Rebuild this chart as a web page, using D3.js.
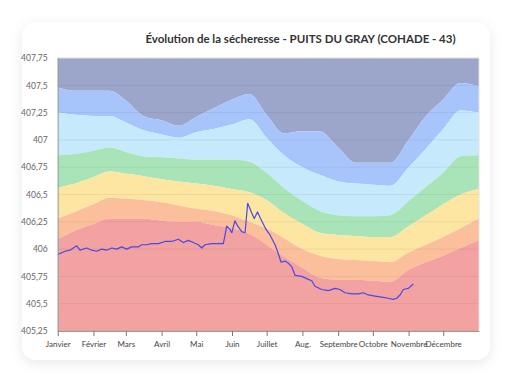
<!DOCTYPE html>
<html><head><meta charset="utf-8">
<script src="https://cdn.jsdelivr.net/npm/d3@7"></script>
<style>
html,body{margin:0;padding:0;background:#fff;width:520px;height:390px;overflow:hidden;font-family:Lato,"Open Sans",sans-serif}
#card{position:absolute;left:22px;top:22px;width:468px;height:338px;border-radius:14px;background:#fff;box-shadow:0 3px 14px rgba(0,0,0,0.09)}
svg{position:absolute;left:0;top:0}
</style></head><body>
<div id="card"></div>
<svg id="chart" width="520" height="390"></svg>
<script>
const title = "Évolution de la sécheresse - PUITS DU GRAY (COHADE - 43)";
const monthNames = ["Janvier","Février","Mars","Avril","Mai","Juin","Juillet","Aug.","Septembre","Octobre","Novembre","Décembre"];
const monthDays = [0,31,59,90,120,151,181,212,243,273,304,334];
const yTicks = [405.25,405.5,405.75,406,406.25,406.5,406.75,407,407.25,407.5,407.75];
const yMin = 405.25, yMax = 407.75;

// band boundaries (m) at day-of-year points
const bandDays = [0,15,31,45,59,74,90,105,120,135,151,166,181,196,212,227,243,258,273,288,304,319,334,349,365];
const limit1 = [407.48,407.45,407.45,407.45,407.36,407.22,407.18,407.13,407.21,407.29,407.37,407.42,407.23,407.06,407.08,407.08,406.93,406.79,406.79,406.79,407.00,407.22,407.37,407.52,407.49];
const limit2 = [407.25,407.23,407.22,407.22,407.16,407.09,407.05,407.02,407.07,407.10,407.14,407.19,407.02,406.86,406.75,406.68,406.62,406.60,406.59,406.58,406.75,406.92,407.10,407.27,407.25];
const limit3 = [406.86,406.87,406.90,406.93,406.89,406.85,406.84,406.83,406.82,406.82,406.82,406.80,406.70,406.56,406.44,406.35,406.31,406.30,406.30,406.31,406.44,406.57,406.70,406.85,406.86];
const limit4 = [406.56,406.60,406.66,406.71,406.69,406.67,406.64,406.62,406.60,406.58,406.55,406.52,406.45,406.33,406.23,406.15,406.13,406.12,406.11,406.11,406.21,406.31,406.41,406.50,406.55];
const limit5 = [406.28,406.34,406.41,406.47,406.46,406.45,406.43,406.40,406.37,406.35,406.31,406.25,406.19,406.10,406.00,405.94,405.91,405.90,405.89,405.88,405.97,406.04,406.11,406.19,406.28];
const limit6 = [406.09,406.17,406.23,406.28,406.28,406.28,406.26,406.25,406.25,406.22,406.19,406.14,406.04,405.93,405.83,405.74,405.72,405.72,405.71,405.70,405.81,405.88,405.94,406.01,406.08];
const bandColors = ["#9ba6ca","#a8c5fb","#c6e9fc","#a9e4b9","#fde5a2","#fbbf9b","#f2a2a1"];

// measured level
const levelDays = [0,6.3,10.7,13.5,16.5,19.3,25.1,29.5,33.8,38.1,42.5,46.8,51.1,55.4,59.8,64.1,69.8,72.8,77.1,81.4,87.2,93,98.8,104.5,108.8,113.2,117.5,121.8,124.8,127.6,133.4,139.1,143.5,145,146.4,149.3,150.8,153.6,156,159.4,162.3,164.6,168.1,170.3,173.1,175.7,178.1,180.5,183.9,188.3,191.1,193.5,196.9,199.8,202.7,205.6,211.4,215.7,220.1,222.9,228.7,234.5,240.3,244.6,248.9,254.7,260.4,264.8,269.1,274.9,280.7,286.4,290.8,293.7,296.6,299.4,303.8,308.1];
const levelValues = [405.95,405.98,405.99,406.01,406.03,405.99,406.01,405.99,405.98,406.00,405.99,406.01,406.00,406.02,406.00,406.02,406.02,406.04,406.04,406.05,406.05,406.07,406.07,406.09,406.06,406.08,406.06,406.04,406.01,406.04,406.05,406.05,406.05,406.13,406.21,406.18,406.15,406.26,406.21,406.16,406.15,406.42,406.33,406.28,406.34,406.28,406.23,406.18,406.13,406.04,405.96,405.88,405.89,405.87,405.84,405.76,405.75,405.73,405.71,405.66,405.63,405.62,405.64,405.63,405.60,405.59,405.59,405.60,405.58,405.57,405.56,405.55,405.54,405.55,405.58,405.63,405.64,405.68];

const svg = d3.select("#chart");
const L = 57.7, R = 479, T = 58, B = 331;
const x = d3.scaleLinear().domain([0,365]).range([L,R]);
const y = d3.scaleLinear().domain([yMin,yMax]).range([B,T]);

const limits = [limit1,limit2,limit3,limit4,limit5,limit6];
const tops = [bandDays.map(()=>yMax)].concat(limits);
const bottoms = limits.concat([bandDays.map(()=>yMin)]);
const area = d3.area().curve(d3.curveMonotoneX);
bandColors.forEach((c,i)=>{
  const pts = bandDays.map((d,j)=>[d, tops[i][j], bottoms[i][j]]);
  svg.append("path")
    .attr("d", area.x(p=>x(p[0])).y0(p=>y(p[2])).y1(p=>y(p[1]))(pts))
    .attr("fill", c);
});

// gridlines
svg.append("g").selectAll("line").data(yTicks).join("line")
  .attr("x1",L).attr("x2",R).attr("y1",d=>y(d)).attr("y2",d=>y(d))
  .attr("stroke","rgba(0,0,0,0.06)").attr("stroke-width",1);

// border top/right
svg.append("path").attr("d",`M${L},${T}H${R}V${B}`).attr("fill","none").attr("stroke","#e2e2e2");

// level line
svg.append("path")
  .attr("d", d3.line().x((d,i)=>x(levelDays[i])).y(d=>y(d))(levelValues))
  .attr("fill","none").attr("stroke","#4a48e8").attr("stroke-width",1.2).attr("stroke-linejoin","round");

// y axis
const fmt = v => String(v).replace(".",",");
const yAxis = svg.append("g").attr("transform",`translate(${L},0)`)
  .call(d3.axisLeft(y).tickValues(yTicks).tickFormat(fmt).tickSize(0).tickPadding(10));
yAxis.select(".domain").attr("stroke","#9a9a9a");
yAxis.selectAll("text").attr("fill","#666").style("font-family","Lato, sans-serif").style("font-size","8.5px");

// x axis
const xAxis = svg.append("g").attr("transform",`translate(0,${B})`)
  .call(d3.axisBottom(x).tickValues(monthDays).tickFormat((d,i)=>monthNames[i]).tickSizeInner(5).tickSizeOuter(0).tickPadding(5));
xAxis.select(".domain").attr("stroke","#9a9a9a");
xAxis.selectAll(".tick line").attr("stroke","#777");
xAxis.selectAll("text").attr("fill","#444").style("font-family","Lato, sans-serif").style("font-size","8px");

// title
svg.append("text").attr("x",300.5).attr("y",43).attr("text-anchor","middle")
  .style("font-family","Lato, sans-serif").style("font-weight","bold").style("font-size","11.5px")
  .attr("fill","#333").text(title);
</script>
</body></html>
